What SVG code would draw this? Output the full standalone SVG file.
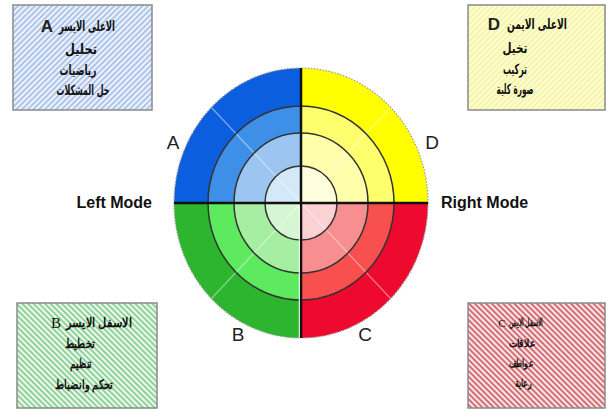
<svg xmlns="http://www.w3.org/2000/svg" width="609" height="412" viewBox="0 0 609 412">
<style>
.box{stroke:#8a8a8a;stroke-width:1.5}
.ar{font-family:"DejaVu Sans","Liberation Sans",sans-serif;font-weight:bold;font-size:14px;fill:#111;text-anchor:middle}
.ars{font-family:"Liberation Serif","DejaVu Serif",serif;font-weight:bold;font-size:13px;fill:#111;text-anchor:middle}
.arc{font-family:"Liberation Serif","DejaVu Serif",serif;font-weight:bold;font-size:11px;fill:#111;text-anchor:middle}
.lat{font-family:"Liberation Sans",Arial,sans-serif;fill:#222}
.mode{font-family:"Liberation Sans",Arial,sans-serif;font-weight:bold;font-size:16px;fill:#111}
.ring{fill:none;stroke:#333;stroke-width:1.5}
.diag{stroke:#fff;stroke-opacity:0.45;stroke-width:1.2}
</style>
<defs>
<pattern id="hA" width="4" height="4" patternUnits="userSpaceOnUse" patternTransform="rotate(45)"><rect width="4" height="4" fill="#eef2fa"/><rect width="1.8" height="4" fill="#a7c0ea"/></pattern>
<pattern id="hD" width="4" height="4" patternUnits="userSpaceOnUse" patternTransform="rotate(45)"><rect width="4" height="4" fill="#ffffc8"/><rect width="1.5" height="4" fill="#f2f0b0"/></pattern>
<pattern id="hB" width="4" height="4" patternUnits="userSpaceOnUse" patternTransform="rotate(-45)"><rect width="4" height="4" fill="#eef8ee"/><rect width="2" height="4" fill="#8fd39a"/></pattern>
<pattern id="hC" width="4" height="4" patternUnits="userSpaceOnUse" patternTransform="rotate(-45)"><rect width="4" height="4" fill="#fbe6e6"/><rect width="2" height="4" fill="#d36f78"/></pattern>
<clipPath id="qTL"><rect x="150" y="50" width="151" height="153"/></clipPath>
<clipPath id="qTR"><rect x="301" y="50" width="151" height="153"/></clipPath>
<clipPath id="qBL"><rect x="150" y="203" width="151" height="153"/></clipPath>
<clipPath id="qBR"><rect x="301" y="203" width="151" height="153"/></clipPath>
</defs>
<rect width="609" height="412" fill="#fff"/>

<g id="wheel">
<g clip-path="url(#qTL)">
<ellipse cx="301" cy="203" rx="127" ry="135" fill="#0b5fdf"/>
<ellipse cx="301" cy="203" rx="93" ry="97" fill="#3d8fe8"/>
<ellipse cx="301" cy="203" rx="67" ry="70" fill="#9cc6f1"/>
<ellipse cx="301" cy="203" rx="36" ry="37" fill="#d3e8f9"/>
</g>
<g clip-path="url(#qTR)">
<ellipse cx="301" cy="203" rx="127" ry="135" fill="#ffff00"/>
<ellipse cx="301" cy="203" rx="93" ry="97" fill="#ffff6e"/>
<ellipse cx="301" cy="203" rx="67" ry="70" fill="#ffffab"/>
<ellipse cx="301" cy="203" rx="36" ry="37" fill="#ffffdd"/>
</g>
<g clip-path="url(#qBL)">
<ellipse cx="301" cy="203" rx="127" ry="135" fill="#2db52f"/>
<ellipse cx="301" cy="203" rx="93" ry="97" fill="#5eea5e"/>
<ellipse cx="301" cy="203" rx="67" ry="70" fill="#a6efa2"/>
<ellipse cx="301" cy="203" rx="36" ry="37" fill="#d5f6d2"/>
</g>
<g clip-path="url(#qBR)">
<ellipse cx="301" cy="203" rx="127" ry="135" fill="#ee0a2e"/>
<ellipse cx="301" cy="203" rx="93" ry="97" fill="#f7504e"/>
<ellipse cx="301" cy="203" rx="67" ry="70" fill="#f78e90"/>
<ellipse cx="301" cy="203" rx="36" ry="37" fill="#fbd1d4"/>
</g>
<line class="diag" x1="211" y1="107" x2="391" y2="299"/>
<line class="diag" x1="391" y1="107" x2="211" y2="299"/>
<ellipse class="ring" cx="301" cy="203" rx="93" ry="97"/>
<ellipse class="ring" cx="301" cy="203" rx="67" ry="70"/>
<ellipse class="ring" cx="301" cy="203" rx="36" ry="37"/>
<ellipse cx="301" cy="203" rx="127" ry="135" fill="none" stroke="#999" stroke-width="1.2" stroke-dasharray="1.5 1.5"/>
<line x1="174" y1="203" x2="428" y2="203" stroke="#111" stroke-width="2.5"/>
<line x1="301" y1="68" x2="301" y2="338" stroke="#111" stroke-width="2.5"/>
<line x1="299.3" y1="205" x2="299.3" y2="338" stroke="#fff" stroke-width="1"/>
</g>

<g id="labels">
<text class="lat" x="173" y="149" font-size="19" text-anchor="middle">A</text>
<text class="lat" x="432" y="149" font-size="19" text-anchor="middle">D</text>
<text class="lat" x="238" y="341" font-size="19" text-anchor="middle">B</text>
<text class="lat" x="365" y="341" font-size="19" text-anchor="middle">C</text>
<text class="mode" x="152" y="208" text-anchor="end">Left Mode</text>
<text class="mode" x="441" y="208">Right Mode</text>
</g>

<g id="box-A">
<rect class="box" x="13" y="5" width="139" height="105" fill="url(#hA)"/>
<text class="lat" x="47" y="32" font-size="17" font-weight="bold" text-anchor="middle" fill="#111">A</text>
<text class="ar" x="87" y="31" textLength="56" lengthAdjust="spacingAndGlyphs">الاعلى الايسر</text>
<text class="ar" x="81" y="54" textLength="32" lengthAdjust="spacingAndGlyphs">تحليل</text>
<text class="ar" x="78" y="75" textLength="37" lengthAdjust="spacingAndGlyphs">رياضيات</text>
<text class="ar" x="83" y="95" textLength="53" lengthAdjust="spacingAndGlyphs">حل المشكلات</text>
</g>

<g id="box-D">
<rect class="box" x="468" y="5" width="137" height="105" fill="url(#hD)"/>
<text class="lat" x="494" y="30" font-size="17" font-weight="bold" text-anchor="middle" fill="#111">D</text>
<text class="ar" x="537" y="29" textLength="60" lengthAdjust="spacingAndGlyphs">الاعلى الايمن</text>
<text class="ar" x="515" y="53" textLength="25" lengthAdjust="spacingAndGlyphs">تخيل</text>
<text class="ar" x="515" y="74" textLength="24" lengthAdjust="spacingAndGlyphs">تركيب</text>
<text class="ar" x="515" y="94" textLength="37" lengthAdjust="spacingAndGlyphs">صورة كلية</text>
</g>

<g id="box-B">
<rect class="box" x="17" y="303" width="140" height="105" fill="url(#hB)"/>
<text x="56" y="328" font-family="Liberation Serif,serif" font-size="15" text-anchor="middle" fill="#111">B</text>
<text class="ars" x="99" y="327" textLength="66" lengthAdjust="spacingAndGlyphs">الاسفل الايسر</text>
<text class="ars" x="80" y="348" textLength="30" lengthAdjust="spacingAndGlyphs">تخطيط</text>
<text class="ars" x="81" y="368" textLength="22" lengthAdjust="spacingAndGlyphs">تنظيم</text>
<text class="ars" x="84" y="389" textLength="58" lengthAdjust="spacingAndGlyphs">تحكم وانضباط</text>
</g>

<g id="box-C">
<rect class="box" x="468" y="303" width="137" height="105" fill="url(#hC)"/>
<text x="502" y="327" font-family="Liberation Serif,serif" font-size="11" text-anchor="middle" fill="#111">C</text>
<text class="arc" x="526" y="326" textLength="34" lengthAdjust="spacingAndGlyphs">الاسفل الايمن</text>
<text class="arc" x="522" y="347" textLength="27" lengthAdjust="spacingAndGlyphs">علاقات</text>
<text class="arc" x="521" y="367" textLength="25" lengthAdjust="spacingAndGlyphs">عواطف</text>
<text class="arc" x="523" y="387" textLength="17" lengthAdjust="spacingAndGlyphs">رعاية</text>
</g>
</svg>
